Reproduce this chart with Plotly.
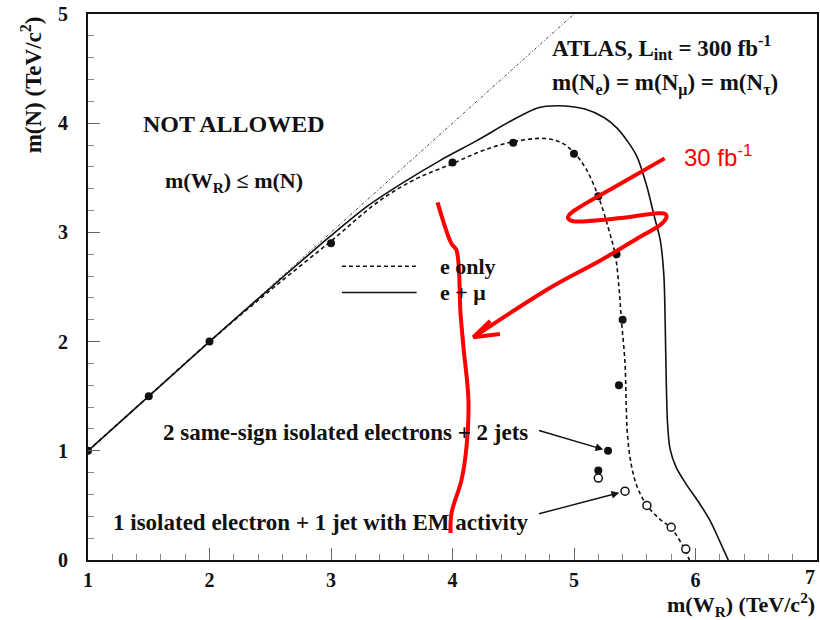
import plotly.graph_objects as go

# Discovery contour, e only (dashed) and e + mu (solid)
eonly_x = [1.0, 1.5, 2.0, 2.5, 3.0, 3.4, 3.7, 4.0, 4.25, 4.5, 4.76, 4.9, 5.0, 5.1, 5.2, 5.28,
           5.34, 5.37, 5.39, 5.42, 5.43, 5.44, 5.47, 5.52, 5.6, 5.7, 5.8, 5.9, 5.95]
eonly_y = [1.0, 1.5, 2.0, 2.47, 2.92, 3.29, 3.49, 3.63, 3.75, 3.83, 3.86, 3.82, 3.73, 3.58, 3.33, 3.05,
           2.79, 2.5, 2.2, 1.8, 1.4, 1.15, 0.88, 0.67, 0.5, 0.38, 0.29, 0.12, 0.0]

emu_x = [1.0, 2.0, 2.5, 3.0, 3.3, 3.6, 3.9, 4.2, 4.48, 4.7, 4.87, 5.09, 5.25, 5.35, 5.45, 5.52,
         5.6, 5.66, 5.71, 5.74, 5.75, 5.76, 5.77, 5.79, 5.84, 5.92, 6.02, 6.12, 6.2, 6.27]
emu_y = [1.0, 2.0, 2.49, 2.97, 3.24, 3.46, 3.66, 3.84, 4.02, 4.14, 4.16, 4.13, 4.05, 3.96, 3.82, 3.69,
         3.42, 3.15, 2.93, 2.6, 2.2, 1.6, 1.25, 1.02, 0.85, 0.7, 0.54, 0.36, 0.17, 0.0]

# Kinematic limit m(W_R) = m(N)
diag_x = [1.0, 5.0]
diag_y = [1.0, 5.0]

# Simulated points: 2 same-sign isolated electrons + 2 jets
ss_x = [1.0, 1.5, 2.0, 3.0, 4.0, 4.5, 5.0, 5.2, 5.35, 5.4, 5.37, 5.28, 5.2]
ss_y = [1.0, 1.5, 2.0, 2.9, 3.64, 3.82, 3.72, 3.33, 2.8, 2.2, 1.6, 1.0, 0.82]

# Simulated points: 1 isolated electron + 1 jet with EM activity
em_x = [5.2, 5.42, 5.6, 5.8, 5.92]
em_y = [0.75, 0.63, 0.5, 0.3, 0.1]

# Hand-drawn red overlay (30 fb^-1 reach)
red_line_x = [3.877, 3.99, 4.033, 4.066, 4.09, 4.131, 4.115, 4.074, 3.992, 3.984]
red_line_y = [3.275, 2.90, 2.836, 2.26, 1.95, 1.464, 1.034, 0.732, 0.43, 0.247]

red_arrow_x = [5.746, 5.36, 5.03, 4.96, 4.951, 4.97, 5.008, 5.361, 5.689, 5.75, 5.762, 5.74,
               5.705, 5.5, 5.221, 4.811, 4.172]
red_arrow_y = [3.678, 3.431, 3.22, 3.16, 3.129, 3.11, 3.10, 3.129, 3.175, 3.17, 3.147, 3.10,
               3.065, 2.93, 2.745, 2.498, 2.04]
red_head_x = [4.31, 4.172, 4.39]
red_head_y = [2.19, 2.04, 2.07]

x_ticks = [1, 2, 3, 4, 5, 6, 7]
y_ticks = [0, 1, 2, 3, 4, 5]

SERIF = "Liberation Serif"
INK = "#111111"

fig = go.Figure()

fig.add_trace(go.Scatter(x=diag_x, y=diag_y, mode="lines",
                         line=dict(color="#333333", width=0.9, dash="3px,2px,1px,2px"),
                         showlegend=False, hoverinfo="skip"))
fig.add_trace(go.Scatter(x=emu_x, y=emu_y, mode="lines", line_shape="spline",
                         line=dict(color=INK, width=1.6, smoothing=0.8), showlegend=False))
fig.add_trace(go.Scatter(x=eonly_x, y=eonly_y, mode="lines", line_shape="spline",
                         line=dict(color=INK, width=1.6, dash="4px,3px"), showlegend=False))
fig.add_trace(go.Scatter(x=ss_x, y=ss_y, mode="markers",
                         marker=dict(color=INK, size=8, line=dict(width=0)), showlegend=False))
fig.add_trace(go.Scatter(x=em_x, y=em_y, mode="markers",
                         marker=dict(color="white", size=8, line=dict(color=INK, width=1.5)),
                         showlegend=False))

# red overlay
fig.add_trace(go.Scatter(x=red_line_x, y=red_line_y, mode="lines", line_shape="spline",
                         line=dict(color="#ff0000", width=4), showlegend=False, hoverinfo="skip"))
fig.add_trace(go.Scatter(x=red_arrow_x, y=red_arrow_y, mode="lines", line_shape="spline",
                         line=dict(color="#ff0000", width=4), showlegend=False, hoverinfo="skip"))
fig.add_trace(go.Scatter(x=red_head_x, y=red_head_y, mode="lines",
                         line=dict(color="#ff0000", width=4), showlegend=False, hoverinfo="skip"))

# hand-made legend
fig.add_shape(type="line", x0=3.09, x1=3.705, y0=2.69, y1=2.69,
              line=dict(color=INK, width=1.6, dash="4px,3px"))
fig.add_shape(type="line", x0=3.09, x1=3.705, y0=2.45, y1=2.45,
              line=dict(color=INK, width=1.6))

bold = dict(family=SERIF, size=22, color=INK, weight="bold")

def label(x, y, text, size=22, xanchor="center"):
    fig.add_annotation(x=x, y=y, text=text, showarrow=False, xanchor=xanchor,
                       yanchor="middle", font=dict(bold, size=size))

label(3.88, 2.69, "e only", xanchor="left")
label(3.88, 2.45, "e + μ", xanchor="left")
label(2.205, 3.99, "NOT ALLOWED", size=24)
label(2.205, 3.46, "m(W<sub>R</sub>) ≤ m(N)")
label(5.72, 4.69, "ATLAS, L<sub>int</sub> = 300 fb<sup>-1</sup>", size=23)
label(5.75, 4.35, "m(N<sub>e</sub>) = m(N<sub>μ</sub>) = m(N<sub>τ</sub>)", size=23)
label(3.12, 1.17, "2 same-sign isolated electrons + 2 jets", size=23)
label(2.92, 0.34, "1 isolated electron + 1 jet with EM activity", size=23)

# pointers to the two selections
fig.add_annotation(x=ss_x[11], y=ss_y[11], ax=4.70, ay=1.19, axref="x", ayref="y",
                   xref="x", yref="y", text="", showarrow=True, arrowhead=2,
                   arrowsize=1.1, arrowwidth=1.4, arrowcolor=INK, standoff=5)
fig.add_annotation(x=em_x[1], y=em_y[1], ax=4.70, ay=0.42, axref="x", ayref="y",
                   xref="x", yref="y", text="", showarrow=True, arrowhead=2,
                   arrowsize=1.1, arrowwidth=1.4, arrowcolor=INK, standoff=6)

fig.add_annotation(x=5.89, y=3.70, text="30 fb<sup>-1</sup>", showarrow=False,
                   xanchor="left", yanchor="middle",
                   font=dict(family="Liberation Sans", size=24, color="#ff0000"))

# last x tick label, kept inside the canvas at the right edge
fig.add_annotation(xref="paper", yref="paper", x=1.0, y=-0.032, text=str(x_ticks[-1]),
                   showarrow=False, xanchor="right", yanchor="middle",
                   font=dict(bold, size=20))

# axis titles
fig.add_annotation(xref="paper", yref="paper", x=-0.077, y=1.0, text="m(N) (TeV/c<sup>2</sup>)",
                   textangle=-90, showarrow=False, xanchor="center", yanchor="top",
                   font=dict(bold, size=23))
fig.add_annotation(xref="paper", yref="paper", x=1.0, y=-0.081, text="m(W<sub>R</sub>) (TeV/c<sup>2</sup>)",
                   showarrow=False, xanchor="right", yanchor="middle",
                   font=dict(bold, size=22))

axis_common = dict(showgrid=False, zeroline=False, showline=True, linecolor=INK, linewidth=2,
                   mirror=True, ticks="inside", ticklen=12, tickwidth=1, tickcolor="#666666",
                   tickfont=dict(family=SERIF, size=20, color=INK, weight="bold"))

fig.update_xaxes(range=[1, 7], tickvals=x_ticks[:-1], ticktext=[str(v) for v in x_ticks[:-1]],
                 minor=dict(dtick=0.2, ticks="inside", ticklen=6, tickcolor="#888888"),
                 ticklabelstandoff=1, **axis_common)
fig.update_yaxes(range=[0, 5], tickvals=y_ticks, ticktext=[str(v) for v in y_ticks],
                 minor=dict(dtick=0.2, ticks="inside", ticklen=6, tickcolor="#888888"),
                 ticklabelstandoff=14, **axis_common)

fig.update_layout(width=820, height=620, margin=dict(l=88, r=1, t=14, b=60),
                  paper_bgcolor="white", plot_bgcolor="white", showlegend=False)

fig.write_html("out.html")
